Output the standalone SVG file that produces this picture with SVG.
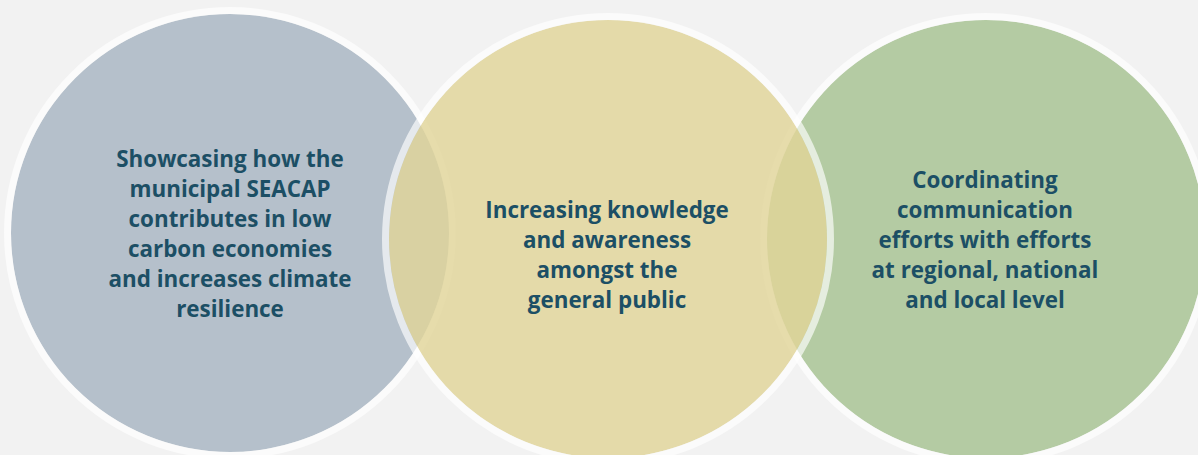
<svg xmlns="http://www.w3.org/2000/svg" width="1198" height="455" viewBox="0 0 1198 455">
<style>
.ring{fill:none;stroke:#ffffff;stroke-width:7;stroke-opacity:0.65}
.lbl{font-family:"Open Sans","Liberation Sans",sans-serif;font-weight:bold;font-size:22.4px;fill:#1c4f65;text-anchor:middle}
</style>
<rect width="1198" height="455" fill="#f2f2f2"/>
<g id="node-showcasing">
<circle cx="230" cy="233" r="219" fill="#b5c0cb"/>
<circle class="ring" cx="230" cy="233" r="222.5"/>
</g>
<g id="node-coordinating">
<circle cx="986" cy="239" r="219" fill="#b4cba3"/>
<circle class="ring" cx="986" cy="239" r="222.5"/>
</g>
<g id="node-increasing">
<circle cx="608" cy="239" r="219" fill="#e0d499" fill-opacity="0.82"/>
<circle class="ring" cx="608" cy="239" r="222.5"/>
</g>
<g id="connectors"></g>
<g id="labels">
<text class="lbl" x="230" y="167">Showcasing how the</text>
<text class="lbl" x="230" y="197">municipal SEACAP</text>
<text class="lbl" x="230" y="227">contributes in low</text>
<text class="lbl" x="230" y="257">carbon economies</text>
<text class="lbl" x="230" y="287">and increases climate</text>
<text class="lbl" x="230" y="317">resilience</text>
<text class="lbl" x="607" y="218">Increasing knowledge</text>
<text class="lbl" x="607" y="248">and awareness</text>
<text class="lbl" x="607" y="278">amongst the</text>
<text class="lbl" x="607" y="308">general public</text>
<text class="lbl" x="985" y="188">Coordinating</text>
<text class="lbl" x="985" y="218">communication</text>
<text class="lbl" x="985" y="248">efforts with efforts</text>
<text class="lbl" x="985" y="278">at regional, national</text>
<text class="lbl" x="985" y="308">and local level</text>
</g>
</svg>
